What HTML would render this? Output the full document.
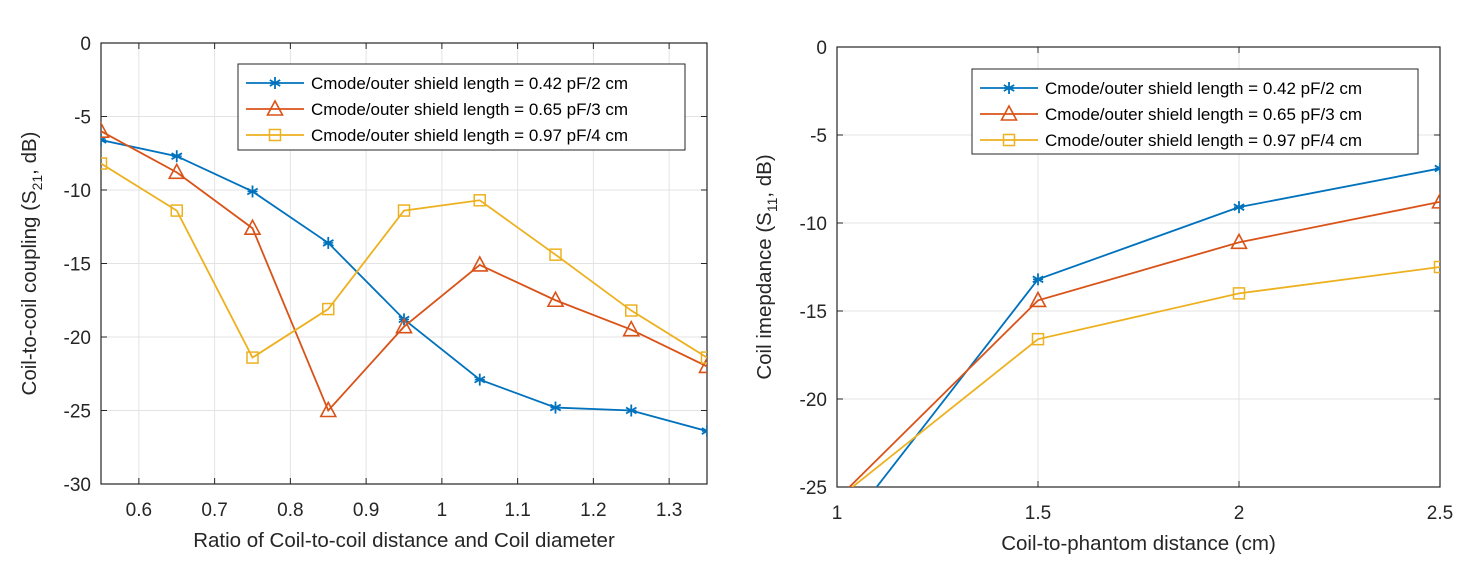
<!DOCTYPE html>
<html><head><meta charset="utf-8"><style>
body{margin:0;background:#fff;}
svg{font-family:"Liberation Sans",Arial,sans-serif;}
</style></head><body>
<svg id="s" width="1471" height="567"></svg>
<script>
const xL=[0.55,0.65,0.75,0.85,0.95,1.05,1.15,1.25,1.35];
const blueL=[-6.6,-7.7,-10.1,-13.6,-18.8,-22.9,-24.8,-25.0,-26.4];
const orangeL=[-6.0,-8.8,-12.6,-25.0,-19.3,-15.1,-17.5,-19.5,-22.0];
const yellowL=[-8.2,-11.4,-21.4,-18.1,-11.4,-10.7,-14.4,-18.2,-21.4];
const xTicksL=[0.6,0.7,0.8,0.9,1,1.1,1.2,1.3];
const yTicksL=[0,-5,-10,-15,-20,-25,-30];
const xR=[1,1.5,2,2.5];
const blueR=[-27.9,-13.2,-9.1,-6.9];
const orangeR=[-25.7,-14.4,-11.1,-8.8];
const yellowR=[-25.7,-16.6,-14.0,-12.5];
const xTicksR=[1,1.5,2,2.5];
const yTicksR=[0,-5,-10,-15,-20,-25];
const legendLabels=["Cmode/outer shield length = 0.42 pF/2 cm","Cmode/outer shield length = 0.65 pF/3 cm","Cmode/outer shield length = 0.97 pF/4 cm"];
const colors=["#0072BD","#D95319","#EDB120"];
const markers=["star","tri","sq"];
const NS="http://www.w3.org/2000/svg";
const svg=document.getElementById('s');
function el(t,a,p){const e=document.createElementNS(NS,t);for(const k in a)e.setAttribute(k,a[k]);(p||svg).appendChild(e);return e;}
function marker(g,type,x,y,c){
  if(type==="star"){const r=6;for(const a of [0,60,120]){const rad=a*Math.PI/180;const m=el('line',{x1:x-r*Math.sin(rad),y1:y-r*Math.cos(rad),x2:x+r*Math.sin(rad),y2:y+r*Math.cos(rad),stroke:c,'stroke-width':1.8},g);}
    el('line',{x1:x-5,y1:y,x2:x+5,y2:y,stroke:c,'stroke-width':1.5},g);}
  else if(type==="tri"){const m=el('polygon',{points:`${x},${y-8} ${x-7.5},${y+6} ${x+7.5},${y+6}`,fill:'none',stroke:c,'stroke-width':1.6},g);}
  else {const m=el('rect',{x:x-5.5,y:y-5.5,width:11,height:11,fill:'none',stroke:c,'stroke-width':1.5},g);}
}
function plot(o){
  const sx=v=>o.x0+(v-o.xmin)/(o.xmax-o.xmin)*(o.x1-o.x0);
  const sy=v=>o.y1-(v-o.ymin)/(o.ymax-o.ymin)*(o.y1-o.y0);
  const g=el('g',{});
  
  
  const clipId=o.name+'-clip';
  const cp=el('clipPath',{id:clipId},g);el('rect',{x:o.x0,y:o.y0,width:o.x1-o.x0,height:o.y1-o.y0},cp);
  for(const t of o.xt){const X=sx(t);
    const gl=el('line',{x1:X,y1:o.y0,x2:X,y2:o.y1,stroke:'#e3e3e3','stroke-width':1},g);
    el('line',{x1:X,y1:o.y1,x2:X,y2:o.y1-6,stroke:'#262626'},g);el('line',{x1:X,y1:o.y0,x2:X,y2:o.y0+6,stroke:'#262626'},g);
    const tx=el('text',{x:X,y:o.y1+32,'font-size':19,'text-anchor':'middle',fill:'#262626'},g);tx.textContent=String(t);
    }
  for(const t of o.yt){const Y=sy(t);
    const gl=el('line',{x1:o.x0,y1:Y,x2:o.x1,y2:Y,stroke:'#e3e3e3','stroke-width':1},g);
    el('line',{x1:o.x0,y1:Y,x2:o.x0+6,y2:Y,stroke:'#262626'},g);el('line',{x1:o.x1,y1:Y,x2:o.x1-6,y2:Y,stroke:'#262626'},g);
    const tx=el('text',{x:o.x0-10,y:Y+7,'font-size':19,'text-anchor':'end',fill:'#262626'},g);tx.textContent=String(t);
    }
  const box=el('rect',{x:o.x0,y:o.y0,width:o.x1-o.x0,height:o.y1-o.y0,fill:'none',stroke:'#262626','stroke-width':1.2},g);
  
  o.series.forEach((s,i)=>{
    const sg=el('g',{'clip-path':`url(#${clipId})`},g);
    
    const pts=o.xs.map((x,j)=>sx(x)+','+sy(s[j])).join(' ');
    el('polyline',{points:pts,fill:'none',stroke:colors[i],'stroke-width':1.8},sg);
    o.xs.forEach((x,j)=>{if(s[j]>=o.ymin)marker(sg,markers[i],sx(x),sy(s[j]),colors[i]);});
  });
  const xl=el('text',{x:(o.x0+o.x1)/2,y:o.y1+63,'font-size':20.5,'text-anchor':'middle',fill:'#262626'},g);xl.textContent=o.xlabel;
  
  const yl=el('text',{transform:`translate(${o.ylx},${(o.y0+o.y1)/2}) rotate(-90)`,'font-size':20.5,'text-anchor':'middle',fill:'#262626'},g);
  yl.innerHTML=o.ylabel;
  
  const lg=el('g',{},g);
  el('rect',{x:o.lg[0],y:o.lg[1],width:o.lg[2]-o.lg[0],height:o.lg[3]-o.lg[1],fill:'#fff',stroke:'#262626','stroke-width':1},lg);
  legendLabels.forEach((l,i)=>{const Y=o.lg[1]+19+i*26;
    const e=el('g',{},lg);
    el('line',{x1:o.lg[0]+8,y1:Y,x2:o.lg[0]+66,y2:Y,stroke:colors[i],'stroke-width':1.8},e);
    marker(e,markers[i],o.lg[0]+37,Y,colors[i]);
    const t=el('text',{x:o.lg[0]+73,y:Y+6,'font-size':17,fill:'#000'},e);t.textContent=l;});
}
plot({name:'coupling-chart',x0:101,x1:707,y0:43,y1:484,xmin:0.55,xmax:1.35,ymin:-30,ymax:0,xt:xTicksL,yt:yTicksL,xs:xL,series:[blueL,orangeL,yellowL],
  xlabel:'Ratio of Coil-to-coil distance and Coil diameter',ylabel:'Coil-to-coil coupling (S<tspan font-size="14" dy="6">21</tspan><tspan dy="-6">, dB)</tspan>',ylx:36,lg:[238,64,685,150]});
plot({name:'impedance-chart',x0:837,x1:1440,y0:47,y1:487,xmin:1,xmax:2.5,ymin:-25,ymax:0,xt:xTicksR,yt:yTicksR,xs:xR,series:[blueR,orangeR,yellowR],
  xlabel:'Coil-to-phantom distance (cm)',ylabel:'Coil imepdance (S<tspan font-size="14" dy="6">11</tspan><tspan dy="-6">, dB)</tspan>',ylx:771,lg:[972,69,1418,154]});
</script>
</body></html>
